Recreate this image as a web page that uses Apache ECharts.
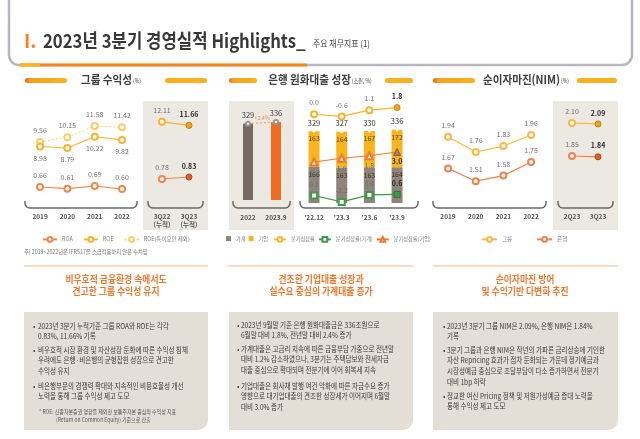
<!DOCTYPE html>
<html><head><meta charset="utf-8">
<script src="https://cdn.jsdelivr.net/npm/echarts@6/dist/echarts.min.js"></script>
<style>html,body{margin:0;padding:0;background:#fff;}#c{width:640px;height:439px;}</style>
</head><body><div id="c"></div>
<script>
// ---------- data ----------
const years = ['2019','2020','2021','2022'];
const ytdCats = ['3Q22\n(누적)','3Q23\n(누적)'];
const roa = [0.66,0.61,0.69,0.60];
const roe = [8.98,8.79,10.22,9.82];
const roeExcl = [9.56,10.15,11.58,11.42];
const roaYtd = [0.78,0.83];
const roeYtd = [12.11,11.66];

const loanYearCats = ['2022','2023.9'];
const loanYearVals = [329,336];
const loanYearGrowthLabel = '+2.4%';
const quarterCats = ["'22.12","'23.3","'23.6","'23.9"];
const household = [166,163,163,164];
const corporate = [163,164,167,172];
const loanTotal = [329,327,330,336];
const growthTotal = [0.0,-0.6,1.1,1.8];
const growthHousehold = [0.2,-2.2,0.4,0.6];
const growthCorporate = [-0.2,1.0,1.8,3.0];

const nimYears = ['2019','2020','2021','2022'];
const nimGroup = [1.94,1.76,1.83,1.96];
const nimBank = [1.67,1.51,1.58,1.75];
const nimQCats = ['2Q23','3Q23'];
const nimGroupQ = [2.10,2.09];
const nimBankQ = [1.85,1.84];

// ---------- style ----------
const FONT = '"Noto Sans CJK KR","Noto Sans",sans-serif';
const C = {
  roa:'#f0874c', roe:'#f8b42e', roeEx:'#fbcd6a', grayBg:'#ece9e3', box:'#e4dfd6',
  orange:'#f0782e', hh:'#8e847a', corp:'#fab41c', green:'#3f9b48', dark:'#776b60', bar2:'#f06c22',
  nimG:'#f8b945', nimB:'#ef8050'
};
function fmt2(p){return Number(p.value).toFixed(2);}
function fmt1(p){return Number(p.value).toFixed(1);}
function hl(arr, idx, fill, border, sym){
  return arr.map((v,i)=> i===idx ? {value:v, symbol:sym||'circle',
    itemStyle:{color:fill, borderColor:border, borderWidth:1},
    label:{fontWeight:'bold', color:'#2e2e2e'}} : v);
}
function line(name, xi, yi, data, color, labelPos, o={}){
  return {type:'line', name, xAxisIndex:xi, yAxisIndex:yi, data,
    symbol:o.symbol||'emptyCircle', symbolSize:o.size||6, z:5,
    lineStyle:{color, width:o.lw||1.2, type:o.dash||'solid'},
    itemStyle:{color, borderColor:color, borderWidth:1.2},
    label:{show:true, position:labelPos, distance:o.dist||4, fontSize:7, color:'#707070', fontFamily:FONT,
      formatter:o.fmt||fmt2}};
}
function xCat(gi, data, margin){
  return {type:'category', gridIndex:gi, data, axisLine:{show:false}, axisTick:{show:false},
    axisLabel:{fontSize:6.5, color:'#555', fontWeight:'bold', fontFamily:FONT, margin, lineHeight:7.5}};
}
const yVal = (gi, min, max)=>({type:'value', gridIndex:gi, min, max, show:false});

// ---------- graphic helpers ----------
const T = (x, y, text, o={}) => {
  const st = {text, fill:o.fill||'#3d3d3d', fontSize:o.fs||7, fontFamily:FONT, fontWeight:o.fw||'normal',
    align:o.align||'left', verticalAlign:o.va||'middle'};
  if (o.lh) st.lineHeight = o.lh;
  if (o.rich) st.rich = o.rich;
  return {type:'text', x, y, scaleX:o.sx||1, style:st};
};
const R = (x,y,w,h,fill,r,o={}) => ({type:'rect', shape:{x,y,width:w,height:h,r:r||0}, style:Object.assign({fill},o)});
const L = (x1,y1,x2,y2,stroke,lw) => ({type:'line', shape:{x1,y1,x2,y2}, style:{stroke, lineWidth:lw}});
function brace(x1,x2,y0){
  const r = 5, d = 7, pts = [[x1,y0]];
  for (let k=0;k<=6;k++){ const a = Math.PI - k*Math.PI/12; pts.push([x1+r+r*Math.cos(a), y0+d-r+r*Math.sin(a)]); }
  for (let k=0;k<=6;k++){ const a = Math.PI/2 - k*Math.PI/12; pts.push([x2-r+r*Math.cos(a), y0+d-r+r*Math.sin(a)]); }
  pts.push([x2,y0]);
  return {type:'polyline', shape:{points:pts}, style:{stroke:'#6a6a6a', fill:null, lineWidth:1.5}};
}
const pillL = (x1,x2,y) => ({type:'rect', shape:{x:x1,y:y,width:x2-x1,height:5,r:2.5},
  style:{fill:new echarts.graphic.LinearGradient(0,0,1,0,[{offset:0,color:'#f05a1e'},{offset:0.12,color:'#f7a01c'},{offset:1,color:'#fab21c'}])}});
const pillR = (x1,x2,y) => R(x1,y,x2-x1,5,'#fab01c',2.5);
const para = (bx, tx, y, lines) => [T(bx, y, '•', {fs:7}),
  T(tx, y-5.3, lines.join('\n'), {fs:7.6, sx:0.86, va:'top', lh:10.6, fill:'#383838'})];
const heading = (cx, lines) => T(cx, 273, lines.join('\n'), {fs:10, fw:'bold', fill:C.orange, align:'center', va:'top', lh:12, sx:0.88});
const ptitle = (cx, a, b) => T(cx, 80, `{a|${a}}{b|${b}}`, {align:'center', sx:0.92,
  rich:{a:{fontSize:11.5, fontWeight:'bold', color:'#333', fontFamily:FONT}, b:{fontSize:5.5, color:'#555', fontFamily:FONT, padding:[2,0,0,1]}}});

const graphics = [
  R(9,-12,623,77,'none',10,{stroke:'#b7b7be', lineWidth:2.5}),
  L(20,65,307,65,'#f5861f',3), L(20,65,40,65,'#f9b81a',3),
  T(24,41,'I.',{fs:19, fw:'bold', fill:'#f5821f'}),
  T(43,41,'2023년 3분기 경영실적 Highlights_',{fs:19, fw:'bold', fill:'#383838', sx:0.88}),
  T(313,44,'주요 재무지표 (1)',{fs:9, fill:'#444', sx:0.88}),
  pillL(25,67,78), pillR(165,207,78), ptitle(111,'그룹 수익성','(%)'),
  pillL(229,257,78), pillR(385,413,78), ptitle(320,'은행 원화대출 성장','(조원, %)'),
  pillL(433,475,78), pillR(577,617,78), ptitle(526,'순이자마진(NIM)','(%)'),
  R(143,101,65,129,C.grayBg), R(229,101,65,129,C.grayBg), R(553,101,65,129,C.grayBg),
  brace(25,137,201), brace(148,203,201), brace(233,290,201), brace(300,418,201), brace(433,546,201), brace(558,613,201),
  T(262,118,loanYearGrowthLabel,{fs:5.5, fill:'#f08a4a', align:'center'}),
  T(24,252,'주) 2019~2022년은 IFRS17을 소급적용하지 않은 수치임',{fs:6, fill:'#777', sx:0.88}),
  L(24,266,208,266,'#f7b68c',1.2), L(228,266,413,266,'#f7b68c',1.2), L(433,266,618,266,'#f7b68c',1.2),
  heading(116,['비우호적 금융환경 속에서도','견고한 그룹 수익성 유지']),
  heading(321,['견조한 기업대출 성장과','실수요 중심의 가계대출 증가']),
  heading(525,['순이자마진 방어','및 수익기반 다변화 추진']),
  R(24,312,184,118,C.box,[0,0,10,0]), R(229,312,184,118,C.box,[0,0,10,0]), R(433,312,185,118,C.box,[0,0,10,0]),
  ...para(33,38,326,['2023년 3분기 누적기준 그룹 ROA와 ROE는 각각','0.83%, 11.66% 기록']),
  ...para(33,38,350,['비우호적 시장 환경 및 자산성장 둔화에 따른 수익성 침체','우려에도 은행·비은행의 균형잡힌 성장으로 견고한','수익성 유지']),
  ...para(33,38,386,['비은행부문의 경쟁력 확대와 지속적인 비용효율성 개선','노력을 통해 그룹 수익성 제고 도모']),
  T(39,412,'* ROE: 신종자본증권 영향을 제외한 보통주자본 중심의 수익성 지표',{fs:5.8, fill:'#555', sx:0.86}),
  T(56,419.5,'(Return on Common Equity) 기준으로 산출',{fs:5.8, fill:'#555', sx:0.86}),
  ...para(237,241,325,['2023년 9월말 기준 은행 원화대출금은 336조원으로','6월말 대비 1.8%, 전년말 대비 2.4% 증가']),
  ...para(237,241,349,['가계대출은 고금리 지속에 따른 금융부담 가중으로 전년말','대비 1.2% 감소하였으나, 3분기는 주택담보와 전세자금','대출 중심으로 확대되며 전분기에 이어 회복세 지속']),
  ...para(237,241,386,['기업대출은 회사채 발행 여건 악화에 따른 자금수요 증가','영향으로 대기업대출의 견조한 성장세가 이어지며 6월말','대비 3.0% 증가']),
  ...para(443,447,326,['2023년 3분기 그룹 NIM은 2.09%, 은행 NIM은 1.84%','기록']),
  ...para(443,447,350,['3분기 그룹과 은행 NIM은 작년의 가파른 금리상승에 기인한','자산 Repricing 효과가 점차 둔화되는 가운데 정기예금과','시장성예금 중심으로 조달부담이 다소 증가하면서 전분기','대비 1bp 하락']),
  ...para(443,447,396,['정교한 여신 Pricing 정책 및 저원가성예금 증대 노력을','통해 수익성 제고 도모'])
];

const legendText = {fontSize:5.5, color:'#7a7a7a', fontFamily:FONT};
const legendTextSm = {fontSize:5.2, color:'#7a7a7a', fontFamily:FONT};
const option = {
  animation:false,
  textStyle:{fontFamily:FONT},
  grid:[
    {left:26.4, width:109.3, top:100, height:95},
    {left:148.5, width:54, top:100, height:95},
    {left:234, width:56, top:100, height:100},
    {left:300.2, width:110.7, top:95, height:108},
    {left:434.2, width:110.7, top:100, height:95},
    {left:559, width:52, top:100, height:95}
  ],
  xAxis:[
    xCat(0, years, 18), xCat(1, ytdCats, 18), xCat(2, loanYearCats, 14), xCat(3, quarterCats, 11),
    xCat(4, nimYears, 18), xCat(5, nimQCats, 18)
  ],
  yAxis:[
    yVal(0,2.83,14.88), yVal(0,0.418,3.297), yVal(1,2.83,14.88), yVal(1,0.38,2.755),
    yVal(2,0,430.8), yVal(3,0,495), yVal(3,-24,5.2), yVal(3,-13.3,21.2), yVal(3,-2.59,37.4),
    yVal(4,1.254,2.372), yVal(4,1.3375,2.525), yVal(5,1.254,2.372), yVal(5,1.3625,2.55)
  ],
  legend:[
    {data:['ROA','ROE','ROE(특이요인 제외)'], left:42, top:236, padding:0, itemWidth:14, itemHeight:6, itemGap:10, textStyle:legendText},
    {data:['가계','기업'], left:226, top:236, padding:0, itemWidth:5, itemHeight:5, itemGap:3, icon:'rect', textStyle:legendTextSm},
    {data:['분기성장률','분기성장률(가계)','분기성장률(기업)'], left:273, top:236, padding:0, itemWidth:12, itemHeight:6, itemGap:3, textStyle:legendTextSm},
    {data:['그룹','은행'], left:481, top:236, padding:0, itemWidth:15, itemHeight:6, itemGap:24, textStyle:legendText}
  ],
  graphic:{elements:graphics},
  series:[
    line('ROE(특이요인 제외)',0,0,roeExcl,C.roeEx,'top',{dash:[2,2],lw:1}),
    line('ROE',0,0,roe,C.roe,'bottom'),
    line('ROA',0,1,roa,C.roa,'top'),
    line('ROE',1,2,hl(roeYtd,1,'#f5a61e','#b97c10'),C.roe,'top'),
    line('ROA',1,3,hl(roaYtd,1,'#e2602a','#a8441a'),C.roa,'top'),
    {type:'bar', name:'원화대출', xAxisIndex:2, yAxisIndex:4, barWidth:10,
      data:loanYearVals.map((v,i)=>({value:v, itemStyle:{color:i===0?C.dark:C.bar2}})),
      label:{show:true, position:'top', distance:5, fontSize:7.5, color:'#3a3a3a'}},
    {type:'line', name:'증가율', xAxisIndex:2, yAxisIndex:4, data:loanYearVals, z:5,
      lineStyle:{color:'#f5a06a', width:1, type:[2,2]}, symbol:'emptyCircle', symbolSize:4,
      itemStyle:{color:'#999', borderColor:'#999'}},
    {type:'bar', name:'가계', xAxisIndex:3, yAxisIndex:5, stack:'loan', barWidth:11, data:household,
      itemStyle:{color:C.hh}, label:{show:true, position:'insideTop', distance:4, fontSize:7, color:'#3b342d'}},
    {type:'bar', name:'기업', xAxisIndex:3, yAxisIndex:5, stack:'loan', barWidth:11, data:corporate,
      itemStyle:{color:C.corp}, label:{show:true, position:'insideTop', distance:4, fontSize:7, color:'#5c4a26'}},
    {type:'line', name:'합계', xAxisIndex:3, yAxisIndex:5, data:loanTotal, z:4,
      lineStyle:{width:0, opacity:0}, symbol:'circle', symbolSize:3, itemStyle:{color:'#fff'},
      label:{show:true, position:'top', distance:3, fontSize:7.5, color:'#333'}},
    line('분기성장률',3,6,hl(growthTotal,3,'#f2a516','#c58a10'),C.roe,'top',{fmt:fmt1}),
    line('분기성장률(가계)',3,8,hl(growthHousehold,3,C.green,'#2c7533','rect'),C.green,'top',{fmt:fmt1,symbol:'emptyRect',size:6}),
    line('분기성장률(기업)',3,7,hl(growthCorporate,3,'#b0805a','#8a5c3a','triangle'),C.orange,'bottom',{fmt:fmt1,symbol:'emptyTriangle',size:7,dist:2}),
    line('그룹',4,9,nimGroup,C.nimG,'top'),
    line('은행',4,10,nimBank,C.nimB,'top'),
    line('그룹',5,11,hl(nimGroupQ,1,'#f2a516','#b97c10'),C.nimG,'top'),
    line('은행',5,12,hl(nimBankQ,1,'#e2602a','#a8441a'),C.nimB,'top')
  ]
};
const chart = echarts.init(document.getElementById('c'), null, {renderer:'canvas'});
chart.setOption(option);
</script></body></html>
